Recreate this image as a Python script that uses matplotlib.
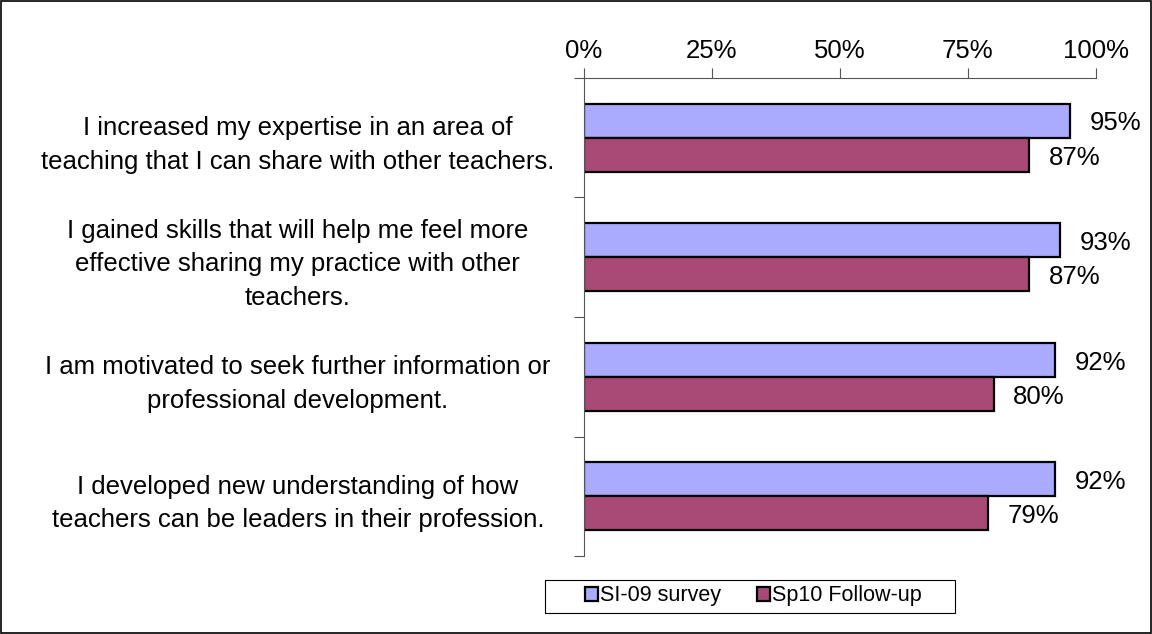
import numpy as np
import matplotlib.pyplot as plt
from matplotlib.patches import Rectangle

plt.rcParams["font.family"] = ["Liberation Sans", "DejaVu Sans"]

statements = [
    "I increased my expertise in an area of\nteaching that I can share with other teachers.",
    "I gained skills that will help me feel more\neffective sharing my practice with other\nteachers.",
    "I am motivated to seek further information or\nprofessional development.",
    "I developed new understanding of how\nteachers can be leaders in their profession.",
]
si09 = [95, 93, 92, 92]
sp10 = [87, 87, 80, 79]
series_names = ["SI-09 survey", "Sp10 Follow-up"]
colors = ["#AAAAFF", "#A94A76"]
axis_grey = "#555555"

fig = plt.figure(figsize=(11.52, 6.34), dpi=100)
ax = fig.add_axes([0.5069, 0.123, 0.4444, 0.754])

n = len(statements)
y = np.arange(n)
h = 0.285
b1 = ax.barh(y - h / 2, si09, height=h, color=colors[0], edgecolor="black", linewidth=1.6,
             label=series_names[0])
b2 = ax.barh(y + h / 2, sp10, height=h, color=colors[1], edgecolor="black", linewidth=1.6,
             label=series_names[1])
for bars, vals in [(b1, si09), (b2, sp10)]:
    texts = ax.bar_label(bars, labels=[f"{v}%" for v in vals], padding=14, fontsize=18.5)
    for t in texts:
        t.xyann = (14, -2)

ax.set_xlim(0, 100)
ax.set_ylim(n - 0.5, -0.5)
ax.xaxis.tick_top()
ax.set_xticks([0, 25, 50, 75, 100])
ax.set_xticklabels(["0%", "25%", "50%", "75%", "100%"], fontsize=18.5)
ax.tick_params(axis="x", direction="out", length=7, width=0.8, color=axis_grey, pad=4)

# category labels centred in a block left of the axis, tick marks between groups
ax.set_yticks(y)
ax.set_yticklabels(statements, fontsize=18.5, ha="center", multialignment="center",
                   linespacing=1.5)
ax.tick_params(axis="y", which="major", length=0, pad=206)
ax.set_yticks(np.arange(n + 1) - 0.5, minor=True)
ax.tick_params(axis="y", which="minor", direction="out", length=7, width=0.8, color=axis_grey)

for side in ["right", "bottom"]:
    ax.spines[side].set_visible(False)
for side in ["left", "top"]:
    ax.spines[side].set_color(axis_grey)
    ax.spines[side].set_linewidth(0.8)

leg = fig.legend(loc="center", bbox_to_anchor=(0.654, 0.06), ncol=2, fontsize=15.5,
                 frameon=False, handlelength=0.6, handleheight=0.6, handletextpad=0.1,
                 columnspacing=1.7, borderpad=0.25, borderaxespad=0)
for patch in leg.get_patches():
    patch.set_edgecolor("black")
    patch.set_linewidth(1.6)

# legend box is wider than the entries, so it is drawn separately
fig.patches.append(Rectangle((0.4731, 0.0331), 0.3559, 0.052, transform=fig.transFigure,
                             fill=False, edgecolor="black", linewidth=0.8))
fig.patches.append(Rectangle((0.0005, 0.0008), 0.999, 0.9984, transform=fig.transFigure,
                             fill=False, edgecolor="black", linewidth=1.2))

fig.savefig("out.png", dpi=100)
